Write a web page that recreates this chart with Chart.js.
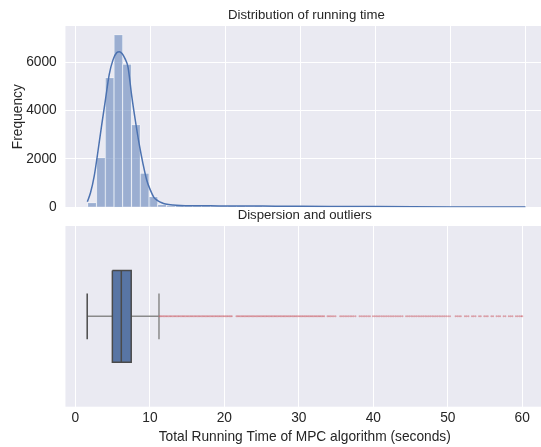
<!DOCTYPE html>
<html>
<head>
<meta charset="utf-8">
<script src="https://cdn.jsdelivr.net/npm/chart.js@4.4.1/dist/chart.umd.min.js"></script>
<style>
  html, body { margin: 0; padding: 0; background: #fff; }
  #wrap { position: relative; width: 541px; height: 447px; overflow: hidden; }
  #histChart { position: absolute; left: 0; top: 0; }
  #boxChart { position: absolute; left: 0; top: 200px; }
</style>
</head>
<body>
<div id="wrap">
  <canvas id="histChart" width="548" height="220"></canvas>
  <canvas id="boxChart" width="548" height="247"></canvas>
</div>
<script>
// histogram of running times (50 bins)
const binCenters = [2.21, 3.38, 4.55, 5.72, 6.88, 8.05, 9.22, 10.39, 11.55, 12.72,
  13.89, 15.06, 16.22, 17.39, 18.56, 19.72, 20.89, 22.06, 23.23, 24.39,
  25.56, 26.73, 27.90, 29.06, 30.23, 31.40, 32.57, 33.73, 34.90, 36.07,
  37.24, 38.40, 39.57, 40.74, 41.90, 43.07, 44.24, 45.41, 46.57, 47.74,
  48.91, 50.08, 51.24, 52.41, 53.58, 54.75, 55.91, 57.08, 58.25, 59.42];
const binCounts = [190, 2052, 5361, 7140, 5915, 3417, 1406, 438, 120, 70,
  55, 48, 46, 44, 41, 42, 39, 37, 38, 35,
  34, 33, 34, 31, 30, 29, 30, 27, 25, 24,
  24, 22, 21, 20, 19, 19, 17, 16, 16, 14,
  13, 12, 12, 10, 10, 9, 9, 8, 7, 7];

// kde curve (scaled to counts)
const kdeX = [1.58, 2.0, 2.5, 3.0, 3.5, 4.0, 4.5, 5.0, 5.5, 5.85, 6.2, 6.6, 7.0, 7.5, 8.0,
  8.5, 9.0, 9.5, 10.0, 10.5, 11.0, 11.5, 12.0, 13.0, 14.0, 16.0, 18.0, 20.0, 25.0,
  30.0, 35.0, 40.0, 45.0, 50.0, 55.0, 60.0];
const kdeY = [232, 600, 1300, 2330, 3420, 4470, 5500, 6100, 6400, 6436, 6360, 6150, 5800, 4600, 3550,
  2600, 1800, 1120, 700, 390, 270, 190, 140, 95, 75, 65, 60, 58, 50,
  42, 35, 28, 22, 17, 13, 10];

// box plot: lower whisker, q1, median, q3, upper whisker
const boxValues = [1.58, 4.96, 6.16, 7.49, 11.22];
const outliers = [11.30, 11.45, 11.62, 11.80, 11.97, 12.15, 12.31, 12.50, 12.68, 12.84, 13.02, 13.21,
  13.38, 13.55, 13.74, 13.90, 14.08, 14.27, 14.44, 14.60, 14.79, 14.97, 15.14, 15.33, 15.50, 15.67,
  15.85, 16.03, 16.20, 16.39, 16.56, 16.73, 16.92, 17.10, 17.27, 17.45, 17.63, 17.80, 17.98, 18.16,
  18.34, 18.51, 18.70, 18.87, 19.05, 19.23, 19.40, 19.58, 19.77, 19.94, 20.12, 20.30, 20.47, 20.66,
  20.83, 21.00, 21.62, 21.80, 21.97, 22.16, 22.34, 22.51, 22.69, 22.87, 23.05, 23.22, 23.40, 23.58,
  23.76, 23.93, 24.11, 24.30, 24.47, 24.65, 24.83, 25.01, 25.19, 25.36, 25.55, 25.72, 25.90, 26.08,
  26.26, 26.43, 26.62, 26.79, 26.97, 27.15, 27.33, 27.51, 27.68, 27.87, 28.04, 28.22, 28.40, 28.58,
  28.76, 28.93, 29.12, 29.30, 29.47, 29.65, 29.83, 30.01, 30.19, 30.37, 30.54, 30.73, 30.90, 31.08,
  31.26, 31.44, 31.62, 31.79, 31.97, 32.15, 32.33, 32.51, 32.69, 32.86, 33.04, 33.22, 33.40,
  33.85, 34.05, 34.26, 34.47, 34.70, 34.92, 35.55, 35.78, 36.00, 36.22, 36.45, 36.67, 36.90, 37.12,
  37.35, 37.60, 38.15, 38.38, 38.62, 38.85, 39.08, 39.32, 39.55, 39.95, 40.18, 40.40, 40.63, 40.86,
  41.10, 41.33, 41.56, 41.80, 42.03, 42.27, 42.50, 42.73, 42.97, 43.20, 43.44, 43.67, 43.92, 44.40,
  44.63, 44.86, 45.10, 45.33, 45.57, 45.80, 46.04, 46.27, 46.51, 46.74, 46.98, 47.21, 47.45, 47.68,
  47.92, 48.15, 48.39, 48.62, 48.86, 49.09, 49.33, 49.56, 49.80, 50.05, 50.30,
  51.05, 51.28, 51.52, 51.75, 52.30, 52.53, 52.77, 53.25, 53.48, 53.72, 54.20, 54.43, 54.90, 55.14,
  55.37, 55.85, 56.08, 56.55, 56.79, 57.02, 57.50, 57.73, 58.20, 58.44, 58.67, 59.15, 59.38, 59.62,
  59.85, 60.00];

const xTicks = [0, 10, 20, 30, 40, 50, 60];
const yTicks = [0, 2000, 4000, 6000];

const FONT = "'Liberation Sans', Arial, sans-serif";
const TEXT = '#262626';
const X_MIN = -1.34, X_MAX = 62.92;
const LEFT = 65.45;

Chart.defaults.font.family = FONT;
Chart.defaults.color = TEXT;

// grey plot area like seaborn darkgrid
const plotBackground = {
  id: 'plotBackground',
  beforeDraw(chart) {
    const { ctx, chartArea: a } = chart;
    ctx.save();
    ctx.fillStyle = '#eaeaf2';
    ctx.fillRect(a.left, a.top, a.right - a.left, a.bottom - a.top);
    ctx.restore();
  }
};

function titleOpts(text) {
  return {
    display: true, text: text, color: TEXT, fullSize: false,
    font: { family: FONT, size: 13.2, weight: 'normal' },
    padding: { top: 7.5, bottom: 2.7 }
  };
}

const gridOpts = { color: '#ffffff', lineWidth: 1, drawTicks: false };

// top: histogram + kde
new Chart(document.getElementById('histChart'), {
  type: 'bar',
  data: {
    datasets: [{
      type: 'line',
      data: kdeX.map((x, i) => ({ x: x, y: kdeY[i] })),
      borderColor: '#4c72b0',
      borderWidth: 1.5,
      pointRadius: 0,
      cubicInterpolationMode: 'monotone',
      order: 0
    }, {
      type: 'bar',
      data: binCenters.map((x, i) => ({ x: x, y: binCounts[i] })),
      backgroundColor: 'rgba(76,114,176,0.5)',
      borderColor: '#ffffff',
      borderWidth: 0.6,
      barPercentage: 1,
      categoryPercentage: 1,
      order: 1
    }]
  },
  options: {
    responsive: false,
    animation: false,
    devicePixelRatio: 1,
    layout: { padding: { left: 0, right: 0.6, top: 0, bottom: 12.7 } },
    plugins: { legend: { display: false }, tooltip: { enabled: false }, title: titleOpts('Distribution of running time') },
    scales: {
      x: {
        type: 'linear', min: X_MIN, max: X_MAX, offset: false,
        afterBuildTicks: s => { s.ticks = xTicks.map(v => ({ value: v })); },
        afterFit: s => { s.height = 0; s.paddingLeft = 0; s.paddingRight = 0; },
        ticks: { display: false },
        grid: Object.assign({ offset: false }, gridOpts),
        border: { display: false }
      },
      y: {
        min: 0, max: 7500,
        afterBuildTicks: s => { s.ticks = yTicks.map(v => ({ value: v })); },
        afterFit: s => { s.width = LEFT; s.paddingTop = 0; s.paddingBottom = 0; },
        ticks: { padding: 8.7, color: TEXT, font: { size: 13.75 }, callback: v => String(v) },
        grid: gridOpts,
        border: { display: false },
        title: { display: true, text: 'Frequency', color: TEXT, font: { size: 13.75 }, padding: { top: 10.25, bottom: 0 } }
      }
    }
  },
  plugins: [plotBackground]
});

// bottom: box plot
const [lo, q1, med, q3, hi] = boxValues;
const lineCol = '#4a4a4a';
function seg(points, extra) {
  return Object.assign({
    data: points.map(p => ({ x: p[0], y: p[1] })),
    showLine: true, borderColor: lineCol, borderWidth: 1.5, pointRadius: 0, fill: false
  }, extra || {});
}

new Chart(document.getElementById('boxChart'), {
  type: 'scatter',
  data: {
    datasets: [
      seg([[q1, 0.4], [q1, -0.4], [q3, -0.4], [q3, 0.4], [q1, 0.4]], { order: 1 }),
      seg([[med, -0.4], [med, 0.4]], { order: 1 }),
      seg([[q1, 0.4], [q3, 0.4]], { borderWidth: 0, fill: { value: -0.4 }, backgroundColor: '#5875a4', order: 3 }),
      seg([[lo, 0], [q1, 0]], { borderColor: '#8a8a8a', order: 2 }),
      seg([[q3, 0], [hi, 0]], { borderColor: '#8a8a8a', order: 2 }),
      seg([[lo, -0.2], [lo, 0.2]], { order: 1 }),
      seg([[hi, -0.2], [hi, 0.2]], { borderColor: '#8a8a8a', order: 1 }),
      {
        data: outliers.map(x => ({ x: x, y: 0 })),
        pointRadius: 1, pointBorderWidth: 0,
        backgroundColor: 'rgba(200,70,80,0.45)',
        order: 0
      }
    ]
  },
  options: {
    responsive: false,
    animation: false,
    devicePixelRatio: 1,
    layout: { padding: { left: LEFT, right: 0.6, top: 0, bottom: 0 } },
    plugins: { legend: { display: false }, tooltip: { enabled: false }, title: titleOpts('Dispersion and outliers') },
    scales: {
      x: {
        type: 'linear', min: X_MIN, max: X_MAX,
        afterBuildTicks: s => { s.ticks = xTicks.map(v => ({ value: v })); },
        afterFit: s => { s.height = 40.3; s.paddingLeft = 0; s.paddingRight = 0; },
        ticks: { padding: 3, color: TEXT, font: { size: 13.75 }, maxRotation: 0, callback: v => String(v) },
        grid: gridOpts,
        border: { display: false },
        title: { display: true, text: 'Total Running Time of MPC algorithm (seconds)', color: TEXT, font: { size: 13.75 }, padding: { top: 0, bottom: 1.75 } }
      },
      y: { display: false, min: -0.788, max: 0.788 }
    }
  },
  plugins: [plotBackground]
});
</script>
</body>
</html>
